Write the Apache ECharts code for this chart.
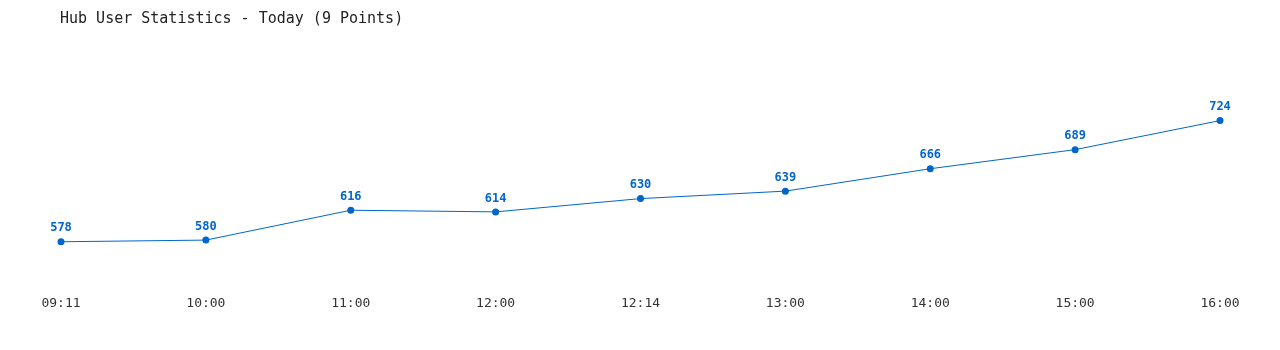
<!DOCTYPE html>
<html><head><meta charset="utf-8">
<script src="https://cdn.jsdelivr.net/npm/echarts@6/dist/echarts.min.js"></script>
<style>html,body{margin:0;padding:0;background:#fff}#c{width:1280px;height:350px}</style>
</head><body><div id="c"></div>
<script>
const categories = ["09:11","10:00","11:00","12:00","12:14","13:00","14:00","15:00","16:00"];
const users = [578,580,616,614,630,639,666,689,724];
const chart = echarts.init(document.getElementById('c'));
const mono = "'DejaVu Sans Mono', 'Liberation Mono', monospace";
chart.setOption({
  animation:false,
  backgroundColor:'#fff',
  title:{text:'Hub User Statistics - Today (9 Points)',left:55,top:7,textStyle:{fontFamily:mono,fontSize:15,fontWeight:'normal',color:'#222'}},
  grid:{left:61,right:60,top:99,height:166},
  xAxis:{type:'category',data:categories,boundaryGap:false,
    axisLine:{show:false},axisTick:{show:false},splitLine:{show:false},
    axisLabel:{margin:32,fontFamily:mono,fontSize:13,color:'#333'}},
  yAxis:{type:'value',min:550,max:750,show:false},
  series:[{type:'line',data:users,symbol:'circle',symbolSize:7,
    lineStyle:{color:'#0066cc',width:1},itemStyle:{color:'#0066cc'},
    label:{show:true,position:'top',distance:4,fontFamily:mono,fontSize:12,fontWeight:'bold',color:'#0066cc'}}]
});
</script></body></html>
